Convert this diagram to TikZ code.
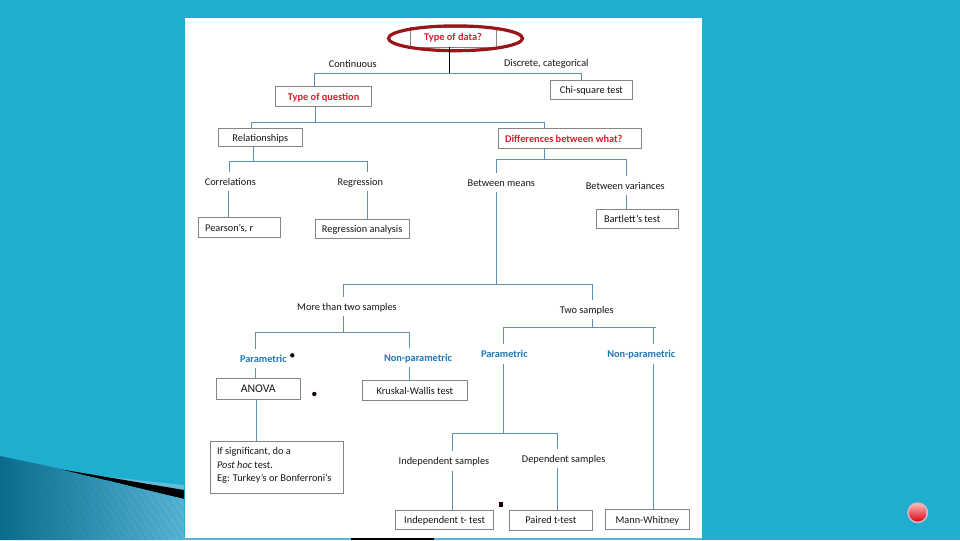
\documentclass[tikz,border=0pt]{standalone}
\usepackage{fontspec}
\setmainfont{Carlito}
\definecolor{bgteal}{HTML}{1FAECF}
\definecolor{wirec}{HTML}{5F8FAE}
\definecolor{boxc}{HTML}{858585}
\definecolor{redt}{HTML}{D4202C}
\definecolor{bluet}{HTML}{1C78B8}
\definecolor{inkc}{HTML}{161616}
\definecolor{ringc}{HTML}{9A1518}
\definecolor{swdark}{HTML}{0A6C8C}
\definecolor{swlight}{HTML}{5AB6D8}
\definecolor{swband}{HTML}{62BCD8}
\definecolor{halo}{HTML}{D8B4C4}
\definecolor{ballhi}{HTML}{FFB4B4}
\definecolor{ballred}{HTML}{F01020}
\definecolor{balllow}{HTML}{D80414}
\tikzset{
  base/.style={inner sep=0pt,font=\fontsize{7.75pt}{9pt}\selectfont,text=inkc,text height=6.4pt,text depth=0.9pt},
  boxn/.style={base,draw=boxc,line width=0.5pt,fill=white,anchor=north west},
  lab/.style={base,minimum height=14.25pt},
  bluel/.style={lab,font=\fontsize{7.75pt}{9pt}\selectfont\bfseries,text=bluet},
  wire/.style={draw=wirec,line width=0.75pt},
  trunk/.style={draw=black,line width=0.85pt},
  speck/.style={fill=black!90!red,draw=none}
}
\begin{document}
\begin{tikzpicture}[x=0.75pt,y=-0.75pt]
\useasboundingbox (0,0) rectangle (960,540);
\fill[bgteal] (0,0) rectangle (960,540);
% lower-left swoosh
\fill[swband] (100,476) -- (184,485) -- (184,491) -- cycle;
\fill[black] (50,467.5) -- (184,490) -- (184,499) -- (110,481) -- cycle;
\begin{scope}
\clip (0,456) -- (50,466.5) -- (110,482) -- (184,499) -- (184,540) -- (0,540) -- cycle;
\shade[left color=swdark,right color=swlight] (0,450) rectangle (190,540);
\foreach \k in {-60,-53,...,190}{\draw[swdark,opacity=0.22,line width=0.4pt] (\k,450) -- (\k+60,540);}
\end{scope}
% panel
\fill[white] (184.7,17.5) rectangle (701.5,538);
% bottom strip
\fill[black] (351,538.4) rectangle (434,540);
\fill[swlight] (434,538.4) rectangle (702,540);
\fill[swlight] (184,538.4) rectangle (351,540);

% boxes
\node[boxn,minimum width=64.5pt,minimum height=15pt] (tod) at (409.7,26.7) {\textcolor{redt}{\bfseries Type of data?}};
\node[boxn,minimum width=72pt,minimum height=15pt] (toq) at (275.3,86.3) {\textcolor{redt}{\bfseries Type of question}};
\node[boxn,minimum width=62pt,minimum height=14.25pt] (chi) at (549.7,80.3) {Chi-square test};
\node[boxn,minimum width=62.5pt,minimum height=14pt] (rel) at (218.3,127.7) {Relationships};
\node[boxn,minimum width=106.8pt,minimum height=15pt] (diff) at (498.3,128.3) {\textcolor{redt}{\bfseries Differences between what?}\kern 9pt};
\node[boxn,minimum width=61.3pt,minimum height=15pt] (pear) at (198,217.3) {Pearson’s, r\kern 15pt};
\node[boxn,minimum width=70.7pt,minimum height=14.5pt] (rega) at (314.7,218.7) {Regression analysis};
\node[boxn,minimum width=61.5pt,minimum height=14.7pt] (bart) at (596.3,208.7) {Bartlett’s test\kern 8.25pt};
\node[boxn,minimum width=62.5pt,minimum height=15.3pt,font=\fontsize{8.8pt}{10pt}\selectfont] (anova) at (216.3,378.3) {ANOVA};
\node[boxn,minimum width=78.3pt,minimum height=15pt] (krus) at (362.3,380.3) {Kruskal-Wallis test};
\node[boxn,minimum width=99.8pt,minimum height=38.5pt,text height=,text depth=,anchor=north west,font=\fontsize{7.75pt}{10.1pt}\selectfont] (sig) at (210.3,441.3) {\hspace{3.4pt}\parbox[c][36pt][t]{93.5pt}{\raggedright\vspace{3.1pt}If significant, do a\\\textit{Post hoc} test.\\Eg: Turkey’s or Bonferroni’s}};
\node[boxn,minimum width=73.5pt,minimum height=14.25pt] (indt) at (395.3,510.3) {Independent t- test};
\node[boxn,minimum width=61.8pt,minimum height=14.5pt] (pair) at (509.3,510.3) {Paired t-test};
\node[boxn,minimum width=62.5pt,minimum height=15pt] (mann) at (605.3,509.3) {Mann-Whitney};

% ring round the first question
\draw[ringc,line width=2.4pt] (455.5,38.3) ellipse [x radius=67,y radius=12.4];

% plain labels
\node[lab] (cont) at (352.7,64) {Continuous};
\node[lab] (disc) at (546.3,62.7) {Discrete, categorical};
\node[lab] (corr) at (230.3,181.7) {Correlations};
\node[lab] (regr) at (360.3,181.7) {Regression};
\node[lab] (bmean) at (501.3,182.7) {Between means};
\node[lab] (bvar) at (625.3,185.7) {Between variances};
\node[lab] (more) at (347,306.7) {More than two samples};
\node[lab] (two) at (586.7,309.7) {Two samples};
\node[bluel] (parl) at (263.3,358.7) {Parametric};
\node[bluel] (nonl) at (418,357.7) {Non-parametric};
\node[bluel] (parr) at (504.3,354) {Parametric};
\node[bluel] (nonr) at (641.3,354) {Non-parametric};
\node[lab] (inds) at (444,461) {Independent samples};
\node[lab] (deps) at (563.7,458.7) {Dependent samples};

% junctions
\coordinate (a0) at (449.3,73.3); \coordinate (a1) at (314.3,73.3); \coordinate (a2) at (581.3,73.3);
\coordinate (b0) at (315.3,122.3); \coordinate (b1) at (251.7,122.3); \coordinate (b2) at (544.7,122.3);
\coordinate (c0) at (253.3,161); \coordinate (c1) at (229.3,161); \coordinate (c2) at (367.3,161);
\coordinate (d0) at (544.3,159.3); \coordinate (d1) at (496.3,159.3); \coordinate (d2) at (626.7,159.3);
\coordinate (e0) at (496.3,285.3); \coordinate (e1) at (343.3,284.3); \coordinate (e2) at (592.3,284.3);
\coordinate (f0) at (343.3,332.3); \coordinate (f1) at (255.3,332.3); \coordinate (f2) at (409.5,332.3);
\coordinate (g0) at (592.3,327.3); \coordinate (g1) at (503.3,327.3); \coordinate (g2) at (653.3,327.3); \coordinate (g3) at (655.5,327.3);
\coordinate (h0) at (503.3,433.3); \coordinate (h1) at (452.3,433.3); \coordinate (h2) at (557.3,433.3);
\coordinate (v1) at (228.3,191);
\coordinate (v2) at (256.7,398);

% connectors
\draw[trunk] (tod.south -| a0) -- (a0);
\draw[wire] (toq.north -| a1) -- (a1) -- (a2) -- (chi.north -| a2);
\draw[wire] (toq.south -| b0) -- (b0);
\draw[wire] (rel.north -| b1) -- (b1) -- (b2) -- (diff.north -| b2);
\draw[wire] (rel.south -| c0) -- (c0);
\draw[wire] (corr.north -| c1) -- (c1) -- (c2) -- (regr.north -| c2);
\draw[wire] (corr.south -| v1) -- (pear.north -| v1);
\draw[wire] (regr.south -| c2) -- (rega.north -| c2);
\draw[wire] (diff.south -| d0) -- (d0);
\draw[wire] (bmean.north -| d1) -- (d1) -- (d2) -- (bvar.north -| d2);
\draw[wire] (bvar.south -| d2) -- (bart.north -| d2);
\draw[wire] (bmean.south -| e0) -- (e0);
\draw[wire] (more.north -| e1) -- (e1) -- (e2) -- (two.north -| e2);
\draw[wire] (more.south -| f0) -- (f0);
\draw[wire] (parl.north -| f1) -- (f1) -- (f2) -- (nonl.north -| f2);
\draw[wire] (parl.south -| f1) -- (anova.north -| f1);
\draw[wire] (nonl.south -| f2) -- (krus.north -| f2);
\draw[wire] (anova.south -| v2) -- (sig.north -| v2);
\draw[wire] (two.south -| g0) -- (g0);
\draw[wire] (parr.north -| g1) -- (g1) -- (g3);
\draw[wire] (g2) -- (nonr.north -| g2);
\draw[wire] (parr.south -| g1) -- (h0);
\draw[wire] (inds.north -| h1) -- (h1) -- (h2) -- (deps.north -| h2);
\draw[wire] (inds.south -| h1) -- (indt.north -| h1);
\draw[wire] (deps.south -| h2) -- (pair.north -| h2);
\draw[wire] (nonr.south -| g2) -- (mann.north -| g2);

% specks
\fill[speck] (292.3,355.3) circle [radius=2.2];
\fill[speck] (314.3,394) circle [radius=2.2];
\fill[speck] (498.5,502) rectangle (503,506.5);

% red button
\fill[halo] (917.7,512.7) circle [radius=10.5];
\shade[top color=ballhi,middle color=ballred,bottom color=balllow] (917.7,512.7) circle [radius=8.8];
\end{tikzpicture}
\end{document}
